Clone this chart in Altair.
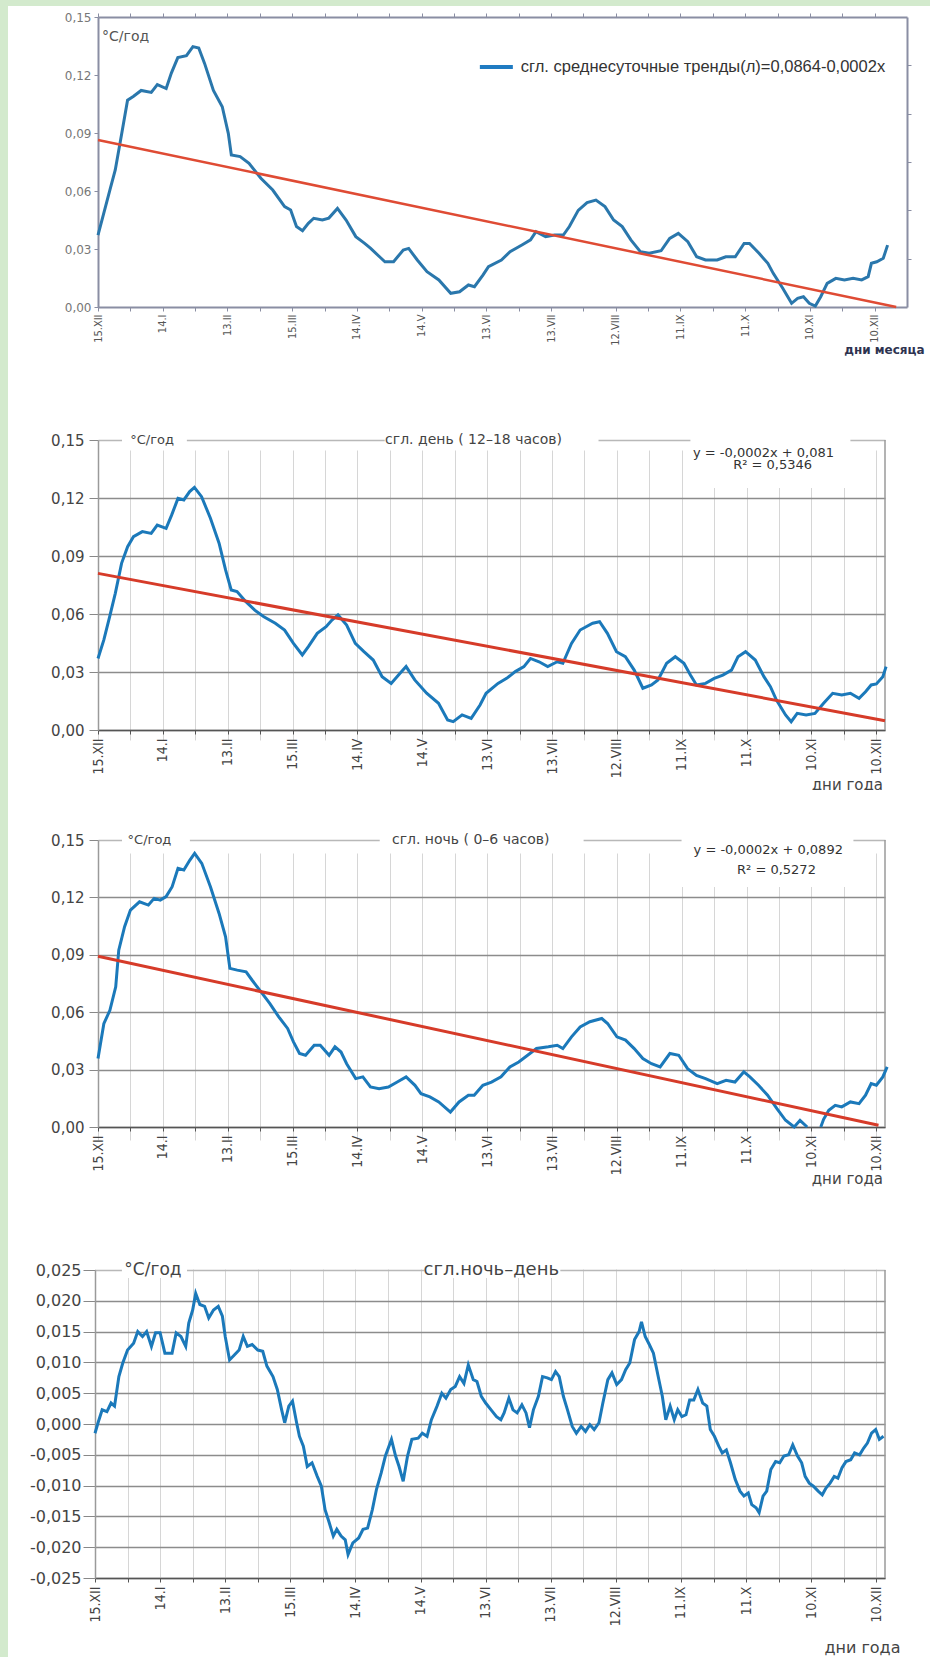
import json
import altair as alt
import pandas as pd

# Month marks on the day axis (day 0 = 15 December, one mark every 30 days)
MONTH_LABELS = ["15.XII", "14.I", "13.II", "15.III", "14.IV", "14.V", "13.VI",
                "13.VII", "12.VIII", "11.IX", "11.X", "10.XI", "10.XII"]
TICK_DAYS = list(range(0, 361, 15))

# --- smoothed daily-mean trends, °C/year ---
avg_day = [0, 5.5, 8, 11, 13.7, 16.5, 20, 24.7, 27.5, 31.6, 34, 37, 41, 44, 46.7, 49.4,
           53.5, 57.6, 60.4, 61.8, 65.9, 70, 75.5, 81, 86.5, 89.3, 92, 94.8, 97.5, 100,
           104, 107, 111, 115, 119.5, 123.6, 126.4, 130.5, 133, 137, 141.5, 144, 148,
           152.5, 158, 163.5, 167.6, 171.7, 174.5, 178.5, 181, 187, 191, 196.5, 200.5,
           203, 207.5, 211.6, 215.7, 218.5, 222.6, 226.7, 230.8, 235, 239, 243, 247,
           251.4, 255.5, 261, 265, 269, 273.4, 277.5, 281.6, 287, 291, 295.4, 299.5,
           302, 306.4, 310.5, 313, 317.4, 321.5, 324.3, 327, 329.7, 332.5, 335, 338,
           342, 346, 350, 354, 357, 358.5, 361, 364, 366]
avg_val = [0.0372, 0.0605, 0.0709, 0.0898, 0.107, 0.109, 0.112, 0.111, 0.115, 0.113,
           0.121, 0.129, 0.130, 0.1347, 0.134, 0.126, 0.112, 0.1036, 0.0898, 0.0786,
           0.0778, 0.0743, 0.0666, 0.0605, 0.0519, 0.0502, 0.0416, 0.0395, 0.0433,
           0.0459, 0.045, 0.046, 0.051, 0.045, 0.0364, 0.0329, 0.0303, 0.026, 0.0234,
           0.0234, 0.0295, 0.0303, 0.0243, 0.0183, 0.014, 0.0071, 0.0079, 0.0114,
           0.0105, 0.0166, 0.0209, 0.0243, 0.0286, 0.0321, 0.0347, 0.039, 0.0364,
           0.0372, 0.0372, 0.0416, 0.050, 0.054, 0.0553, 0.0519, 0.045, 0.0416, 0.0347,
           0.0286, 0.0278, 0.0291, 0.0355, 0.0381, 0.0338, 0.026, 0.0243, 0.0243, 0.026,
           0.026, 0.0329, 0.0329, 0.0278, 0.0226, 0.0174, 0.0097, 0.0019, 0.0045,
           0.0053, 0.0019, 0.0005, 0.0053, 0.0122, 0.0148, 0.014, 0.0148, 0.014, 0.0157,
           0.0226, 0.0234, 0.0252, 0.032]
avg_fit_day = [0, 370]
avg_fit_val = [0.0864, 0.0]

# --- smoothed day (12–18 h) trends ---
day_day = [0, 2.7, 5.4, 8, 10.9, 13.7, 16.4, 20.5, 24.6, 27.4, 31.5, 34, 37, 39.7, 42.4,
           44.6, 47.9, 52, 56, 59, 61.6, 64.3, 68.4, 72.5, 76.7, 82, 86.3, 90.4, 94.5,
           97.3, 101.4, 105.5, 108.2, 111, 115, 119, 123, 127.3, 131.4, 135.6, 139.7,
           142.5, 146.5, 152, 157.5, 161.7, 164.3, 168.4, 172.6, 176.7, 179.5, 185, 189,
           193, 197, 200, 204, 208, 212.4, 215, 219, 223, 228.8, 232, 235.6, 239.8,
           243.9, 248, 252, 256, 259, 263, 267, 271, 274, 276.8, 281, 285, 289, 293,
           296, 299.5, 304, 308, 311, 313.8, 318, 320.6, 323.4, 327.5, 331.6, 335.6,
           339.8, 344, 348, 352, 355, 357.6, 360, 363, 364.5]
day_val = [0.037, 0.0466, 0.0586, 0.0707, 0.0862, 0.0948, 0.100, 0.1026, 0.1017, 0.106,
           0.1043, 0.111, 0.1198, 0.119, 0.1233, 0.1255, 0.1207, 0.1095, 0.0966, 0.0828,
           0.0724, 0.0716, 0.0664, 0.062, 0.0586, 0.0552, 0.0517, 0.0448, 0.0388, 0.0431,
           0.05, 0.0534, 0.0569, 0.0595, 0.0543, 0.0448, 0.0405, 0.0362, 0.0276, 0.0241,
           0.0293, 0.0328, 0.0259, 0.019, 0.0138, 0.0052, 0.0043, 0.0078, 0.006, 0.0129,
           0.019, 0.0241, 0.0267, 0.0302, 0.0328, 0.037, 0.0353, 0.0328, 0.0353, 0.0345,
           0.0448, 0.0517, 0.0552, 0.056, 0.05, 0.0405, 0.0379, 0.031, 0.0216, 0.0233,
           0.0259, 0.0345, 0.0379, 0.0345, 0.0284, 0.0233, 0.0241, 0.0267, 0.0284, 0.031,
           0.0379, 0.0405, 0.0362, 0.0276, 0.0224, 0.0155, 0.0078, 0.0043, 0.0086,
           0.0078, 0.0086, 0.0138, 0.019, 0.0181, 0.019, 0.0164, 0.0198, 0.0233, 0.0238,
           0.0276, 0.0328]
day_fit_day = [0, 364]
day_fit_val = [0.081, 0.0048]

# --- smoothed night (0–6 h) trends; the curve dips below zero near 10.XI ---
night_day = [0, 2.7, 5.5, 8.2, 9.6, 12.3, 15, 19.2, 23.3, 26, 28.8, 31.5, 34.3, 37, 39.7,
             42.5, 44.7, 48, 52, 56, 59, 61, 64.4, 68.5, 71.3, 75.4, 79.5, 83.6, 87.7,
             90.4, 93.2, 96, 100, 102.8, 106.9, 109.6, 112.4, 115, 119.2, 122.5, 126,
             130, 134.3, 138.4, 142.5, 146.6, 149.4, 153.5, 157.6, 163, 167, 171.3, 174,
             178, 182, 186.4, 190.5, 194.6, 198.7, 202.8, 208.3, 212.4, 215, 219, 223,
             227.5, 233, 235.7, 240, 244, 248, 252, 256, 260, 264.5, 268.6, 272.7,
             276.8, 281, 286.4, 290.5, 294.6, 298.7, 301.5, 305.5, 309.7, 314, 318, 322,
             324.7, 328,
             334.3, 335.6, 338, 341, 344, 348, 352, 355, 357.6, 360, 363, 365]
night_val = [0.0358, 0.054, 0.061, 0.0733, 0.0924, 0.1047, 0.1134, 0.1177, 0.116, 0.1195,
             0.1186, 0.1204, 0.1256, 0.1352, 0.1343, 0.1395, 0.143, 0.1378, 0.1256,
             0.1116, 0.0994, 0.0829, 0.082, 0.0811, 0.0767, 0.0706, 0.0645, 0.0576,
             0.0515, 0.0445, 0.0384, 0.0375, 0.0427, 0.0427, 0.0375, 0.0419, 0.0392,
             0.0331, 0.0253, 0.0262, 0.0209, 0.02, 0.0209, 0.0235, 0.0262, 0.0218,
             0.0174, 0.0157, 0.0131, 0.0078, 0.0131, 0.0166, 0.0166, 0.0218, 0.0235,
             0.0262, 0.0314, 0.034, 0.0375, 0.041, 0.0419, 0.0427, 0.041, 0.0471, 0.0523,
             0.055, 0.0567, 0.0541, 0.0471, 0.0454, 0.041, 0.0358, 0.0331, 0.0314,
             0.0384, 0.0375, 0.0305, 0.027, 0.0253, 0.0227, 0.0244, 0.0235, 0.0288,
             0.0262, 0.0218, 0.0166, 0.0096, 0.0035, 0.0, 0.0035, 0.0,
             0.0, 0.004, 0.0087, 0.0113, 0.0105, 0.0131, 0.0122, 0.0166, 0.0227, 0.0218,
             0.0262, 0.0314]
night_seg = [1] * 91 + [2] * 12
night_fit_day = [0, 361]
night_fit_val = [0.0892, 0.0009]

# --- smoothed night minus day ---
diff_day = [0, 1.4, 3.3, 5.5, 7.4, 9, 11, 12.8, 15, 17.8, 19.7, 21.9, 23.8, 26, 27.9, 30,
            32.2, 35.5, 37.4, 39.6, 41.8, 43.2, 45, 46.4, 48.3, 50.5, 52.4, 54.6, 56.8,
            58.7, 60, 62, 64.2, 66.4, 68.3, 70.2, 72.4, 75, 77.3, 79.2, 82, 84, 86, 87.4,
            89.3, 91, 92.9, 94.2, 96, 97.8, 100, 102.4, 104.3, 106, 107.9, 109.8, 111.4,
            113.4, 115.3, 116.6, 118.8, 121.5, 123.5, 125.6, 127.8, 129.7, 131.9, 133.8,
            136.6, 138.5, 140.1, 142, 144, 146, 148.9, 150.8, 153, 155, 157.6, 159.8,
            161.7, 163.9, 166, 168, 170, 172, 174.3, 176, 178, 180, 182.5, 185, 187,
            188.5, 190.7, 192.6, 194.5, 196.7, 198.6, 200.2, 202, 204.3, 206.2, 208.4,
            210.3, 212.2, 213.9, 215.8, 217.7, 219.9, 221.8, 224, 226, 228, 230, 232.2,
            234, 236.3, 238.2, 240.4, 242.6, 244.5, 246.4, 248.6, 250.7, 251.8, 253.5,
            255.4, 257.3, 259.5, 261.4, 263, 265, 266.9, 268.5, 270.4, 272.3, 274,
            275.9, 277.8, 280, 281.9, 283.5, 285.4, 287.4, 289, 290.9, 292.8, 295,
            297.2, 299, 301, 302.6, 304.6, 306, 307.8, 309.5, 311.4, 313.6, 315.5,
            317.4, 319.6, 321.5, 323.7, 325.6, 327.2, 329.1, 331, 333.2, 335.1, 336.8,
            338.7, 340.6, 342.3, 344.2, 346, 348.2, 350, 352.3, 354.2, 355.9, 357.8,
            359.7, 361.4, 363.3]
diff_val = [-0.0015, 0.0002, 0.0023, 0.002, 0.0034, 0.0029, 0.0077, 0.0099, 0.012, 0.0131,
            0.015, 0.0142, 0.015, 0.0126, 0.0148, 0.0148, 0.0115, 0.0115, 0.0148, 0.0142,
            0.0126, 0.0164, 0.0185, 0.0212, 0.0194, 0.0191, 0.0172, 0.0185, 0.0191,
            0.0175, 0.0142, 0.0104, 0.0112, 0.012, 0.0142, 0.0126, 0.0129, 0.012, 0.0118,
            0.0094, 0.0077, 0.0056, 0.0023, 0.0002, 0.0029, 0.0037, 0.0002, -0.002,
            -0.0036, -0.0069, -0.0063, -0.0085, -0.0101, -0.0139, -0.016, -0.0182,
            -0.0171, -0.0182, -0.0188, -0.0212, -0.0193, -0.0185, -0.0171, -0.0169,
            -0.0139, -0.0106, -0.0079, -0.0052, -0.0025, -0.0052, -0.0069, -0.0093,
            -0.0052, -0.0025, -0.0023, -0.0015, -0.002, 0.0007, 0.0029, 0.005, 0.0042,
            0.0056, 0.0061, 0.0077, 0.0066, 0.0096, 0.0072, 0.0069, 0.0045, 0.0034,
            0.0023, 0.0012, 0.0007, 0.0018, 0.0042, 0.0023, 0.0018, 0.0031, 0.0018,
            -0.0006, 0.0023, 0.0045, 0.0077, 0.0075, 0.0072, 0.0085, 0.0077, 0.0045,
            0.0023, -0.0004, -0.0015, -0.0004, -0.0012, -0.0001, -0.0009, 0.0002, 0.0034,
            0.0072, 0.0083, 0.0064, 0.0072, 0.0088, 0.0099, 0.0137, 0.015, 0.0166,
            0.0142, 0.0129, 0.0115, 0.0077, 0.0045, 0.0007, 0.0029, 0.0007, 0.0023,
            0.0012, 0.0015, 0.0039, 0.0039, 0.0056, 0.0034, 0.0029, -0.0009, -0.002,
            -0.0036, -0.0047, -0.0042, -0.0063, -0.009, -0.0109, -0.0117, -0.0112,
            -0.0131, -0.0136, -0.0144, -0.0117, -0.0109, -0.0074, -0.0061, -0.0063,
            -0.0052, -0.005, -0.0034, -0.0052, -0.0063, -0.0085, -0.0096, -0.0101,
            -0.0109, -0.0115, -0.0104, -0.0096, -0.0085, -0.0088, -0.0071, -0.0061,
            -0.0058, -0.0047, -0.005, -0.0039, -0.0031, -0.0015, -0.0009, -0.0025,
            -0.002]

BLUE = "#1b79ba"
RED = "#d63b29"
FONT = "DejaVu Sans"
NARROW = "DejaVu Sans Condensed, Liberation Sans Narrow, Liberation Sans"
W = 922

X_LABEL_EXPR = ("datum.value % 30 == 0 ? " + json.dumps(MONTH_LABELS)
                + "[datum.value / 30] : ''")


def y_label_expr(decimals):
    return ("replace(replace(format(datum.value, '.%df'), '.', ','), '\u2212', '-')"
            % decimals)


def text_mark(xs, ys, day, val, label, **kw):
    df = pd.DataFrame({"day": [day], "val": [val], "label": [label]})
    return alt.Chart(df).mark_text(**kw).encode(
        x=alt.X("day:Q", scale=xs, axis=None),
        y=alt.Y("val:Q", scale=ys, axis=None),
        text="label:N",
    )


def white_boxes(xs, ys, d0, d1, v0, v1):
    df = pd.DataFrame({"d0": d0, "d1": d1, "v0": v0, "v1": v1})
    return alt.Chart(df).mark_rect(color="white").encode(
        x=alt.X("d0:Q", scale=xs, axis=None), x2="d1:Q",
        y=alt.Y("v0:Q", scale=ys, axis=None), y2="v1:Q",
    )


def series_line(df, xs, ys, color, width, **enc):
    return alt.Chart(df).mark_line(color=color, strokeWidth=width).encode(
        x=alt.X("day:Q", scale=xs, axis=None),
        y=alt.Y("val:Q", scale=ys, axis=None),
        **enc,
    )


# ---------------- panel 1: boxed chart with legend ----------------
H1 = 384
xs1 = alt.Scale(domain=[0, 375], range=[90, 899], nice=False, zero=False)
ys1 = alt.Scale(domain=[0, 0.15], range=[301, 11], nice=False, zero=False)
FRAME = "#8a8ea3"

avg_line = alt.Chart(pd.DataFrame({"day": avg_day, "val": avg_val})).mark_line(
    color="#2a77ac", strokeWidth=3
).encode(
    x=alt.X("day:Q", scale=xs1, axis=alt.Axis(
        orient="bottom", offset=-83, values=TICK_DAYS, labelExpr=X_LABEL_EXPR,
        labelAngle=-90, tickSize=4, tickColor=FRAME, domainColor=FRAME, domainWidth=2,
        labelPadding=3, labelFont=NARROW, labelFontSize=11, labelColor="#555",
        labelOverlap=False, labelFlush=False, grid=False, title=None)),
    y=alt.Y("val:Q", scale=ys1, axis=alt.Axis(
        orient="left", offset=-90, values=[0, 0.03, 0.06, 0.09, 0.12, 0.15],
        labelExpr=y_label_expr(2), tickSize=4, tickColor=FRAME, domainColor=FRAME,
        domainWidth=2, labelPadding=3, labelFont=FONT, labelFontSize=12,
        labelColor="#777", grid=False, title=None)),
)
avg_fit = alt.Chart(pd.DataFrame({"day": avg_fit_day, "val": avg_fit_val})).mark_line(
    color="#df4b34", strokeWidth=2.5
).encode(
    x=alt.X("day:Q", scale=xs1, axis=alt.Axis(
        orient="top", offset=-11, values=TICK_DAYS, labels=False, tickSize=4,
        tickColor=FRAME, domainColor=FRAME, domainWidth=2, grid=False, title=None)),
    y=alt.Y("val:Q", scale=ys1, axis=alt.Axis(
        orient="right", offset=-23, values=[0.025, 0.05, 0.075, 0.1, 0.125],
        labels=False, tickSize=4, tickColor=FRAME, domainColor=FRAME, domainWidth=2,
        grid=False, title=None)),
)
legend_key = alt.Chart(pd.DataFrame({"d0": [177], "d1": [192.3], "val": [0.1241]})).mark_rule(
    color="#1f7bc2", strokeWidth=4
).encode(
    x=alt.X("d0:Q", scale=xs1, axis=None), x2="d1:Q",
    y=alt.Y("val:Q", scale=ys1, axis=None),
)
panel1 = alt.layer(
    avg_line, avg_fit, legend_key,
    text_mark(xs1, ys1, 196, 0.1241, "сгл. среднесуточные тренды(л)=0,0864-0,0002x",
              align="left", baseline="middle", font="Liberation Sans", fontSize=16.5,
              color="#333"),
    text_mark(xs1, ys1, 1.9, 0.1397, "°C/год", align="left", baseline="middle",
              font=FONT, fontSize=14, color="#555"),
    text_mark(xs1, ys1, 364.5, -0.0222, "дни месяца", align="center", baseline="middle",
              font=FONT, fontSize=12, fontWeight="bold", color="#2e3350"),
).resolve_axis(x="independent", y="independent").properties(width=W, height=H1)


# ---------------- panels 2-4: gridded charts ----------------
def gridded_panel(height, xs, ys, y_values, decimals, y_offset, y_tick, y_pad, y_font,
                  x_offset, top_val, layers):
    axis_layer = alt.Chart(pd.DataFrame({"day": [0], "val": [0.0]})).mark_point(
        opacity=0
    ).encode(
        x=alt.X("day:Q", scale=xs, axis=alt.Axis(
            orient="bottom", offset=x_offset, values=TICK_DAYS, labelExpr=X_LABEL_EXPR,
            labelAngle=-90, tickSize=4, tickColor="#555", domainColor="#555",
            domainWidth=1.5, labelPadding=4, labelFont=NARROW, labelFontSize=14,
            labelColor="#444", labelOverlap=False, labelFlush=False,
            grid=True, gridColor="#d6d6d6", gridWidth=1, title=None)),
        y=alt.Y("val:Q", scale=ys, axis=alt.Axis(
            orient="left", offset=y_offset, values=y_values,
            labelExpr=y_label_expr(decimals), tickSize=y_tick, tickColor="#888",
            domainColor="#9a9a9a", domainWidth=1.5, labelPadding=y_pad,
            labelFont=FONT, labelFontSize=y_font, labelColor="#444",
            labelOverlap=False, grid=True, gridWidth=1.5,
            gridColor={"condition": {"test": "datum.value > %g" % (top_val * 0.99),
                                     "value": "#b8b8b8"},
                       "value": "#8c8c8c"},
            title=None)),
    )
    return alt.layer(axis_layer, *layers).resolve_axis(
        x="independent", y="independent").properties(width=W, height=height)


def border(xs, ys, day, v0, v1):
    df = pd.DataFrame({"day": [day], "v0": [v0], "v1": [v1]})
    return alt.Chart(df).mark_rule(color="#9a9a9a", strokeWidth=1.5).encode(
        x=alt.X("day:Q", scale=xs, axis=None),
        y=alt.Y("v0:Q", scale=ys, axis=None), y2="v1:Q",
    )


def label_style(size, color="#444"):
    return dict(align="center", baseline="middle", font=FONT, fontSize=size, color=color)


Y_TICKS_03 = [0, 0.03, 0.06, 0.09, 0.12, 0.15]

# panel 2: day
xs2 = alt.Scale(domain=[0, 364], range=[90, 877], nice=False, zero=False)
ys2 = alt.Scale(domain=[0, 0.15], range=[340, 50], nice=False, zero=False)
panel2 = gridded_panel(400, xs2, ys2, Y_TICKS_03, 2, -90, 9, 5, 15, -60, 0.15, [
    white_boxes(xs2, ys2, [11.1, 132.6, 274], [41.1, 231.5, 348],
                [0.1455, 0.1455, 0.1252], [0.1545, 0.1545, 0.1545]),
    border(xs2, ys2, 364, 0, 0.15),
    series_line(pd.DataFrame({"day": day_day, "val": day_val}), xs2, ys2, BLUE, 3),
    series_line(pd.DataFrame({"day": day_fit_day, "val": day_fit_val}), xs2, ys2, RED, 3),
    text_mark(xs2, ys2, 25, 0.15, "°C/год", **label_style(13)),
    text_mark(xs2, ys2, 173.7, 0.15, "сгл. день ( 12–18 часов)", **label_style(14)),
    text_mark(xs2, ys2, 307.8, 0.1433, "y = -0,0002x + 0,081", **label_style(13, "#333")),
    text_mark(xs2, ys2, 312, 0.1371, "R² = 0,5346", **label_style(13, "#333")),
    text_mark(xs2, ys2, 346.6, -0.0284, "дни года", **label_style(15, "#444")),
])

# panel 3: night
xs3 = alt.Scale(domain=[0, 364], range=[90, 877], nice=False, zero=False)
ys3 = alt.Scale(domain=[0, 0.15], range=[337, 50], nice=False, zero=False)
panel3 = gridded_panel(400, xs3, ys3, Y_TICKS_03, 2, -90, 9, 5, 15, -63, 0.15, [
    white_boxes(xs3, ys3, [11.1, 130.3, 269.9], [42.5, 224.6, 349.4],
                [0.1455, 0.1455, 0.1254], [0.1545, 0.1545, 0.1545]),
    border(xs3, ys3, 364, 0, 0.15),
    series_line(pd.DataFrame({"day": night_day, "val": night_val, "seg": night_seg}),
                xs3, ys3, BLUE, 3, detail="seg:N"),
    series_line(pd.DataFrame({"day": night_fit_day, "val": night_fit_val}), xs3, ys3, RED, 3),
    text_mark(xs3, ys3, 23.8, 0.15, "°C/год", **label_style(13)),
    text_mark(xs3, ys3, 172.4, 0.15, "сгл. ночь ( 0–6 часов)", **label_style(14)),
    text_mark(xs3, ys3, 310, 0.1448, "y = -0,0002x + 0,0892", **label_style(13, "#333")),
    text_mark(xs3, ys3, 313.8, 0.1343, "R² = 0,5272", **label_style(13, "#333")),
    text_mark(xs3, ys3, 346.6, -0.0272, "дни года", **label_style(15, "#444")),
])

# panel 4: night minus day
xs4 = alt.Scale(domain=[0, 364], range=[87, 877], nice=False, zero=False)
ys4 = alt.Scale(domain=[-0.025, 0.025], range=[388, 80], nice=False, zero=False)
Y_TICKS_005 = [-0.025, -0.02, -0.015, -0.01, -0.005, 0, 0.005, 0.01, 0.015, 0.02, 0.025]
panel4 = gridded_panel(467, xs4, ys4, Y_TICKS_005, 3, -87, 12, 2, 16, -79, 0.025, [
    white_boxes(xs4, ys4, [12.4, 151.7], [42.4, 214.4],
                [0.0237, 0.0237], [0.0263, 0.0263]),
    border(xs4, ys4, 364, -0.025, 0.025),
    series_line(pd.DataFrame({"day": diff_day, "val": diff_val}), xs4, ys4, BLUE, 3),
    text_mark(xs4, ys4, 26.7, 0.025, "°C/год", **label_style(17)),
    text_mark(xs4, ys4, 182.6, 0.025, "сгл.ночь–день", **label_style(18)),
    text_mark(xs4, ys4, 353.6, -0.0364, "дни года", **label_style(16, "#444")),
])

chart = alt.vconcat(panel1, panel2, panel3, panel4, spacing=0, bounds="flush").properties(
    padding={"left": 8, "top": 6, "right": 0, "bottom": 0},
    background="#d3eacd",
).configure_view(fill="white", strokeWidth=0)

chart.save("out.html", embed_options={"renderer": "svg", "actions": False})
